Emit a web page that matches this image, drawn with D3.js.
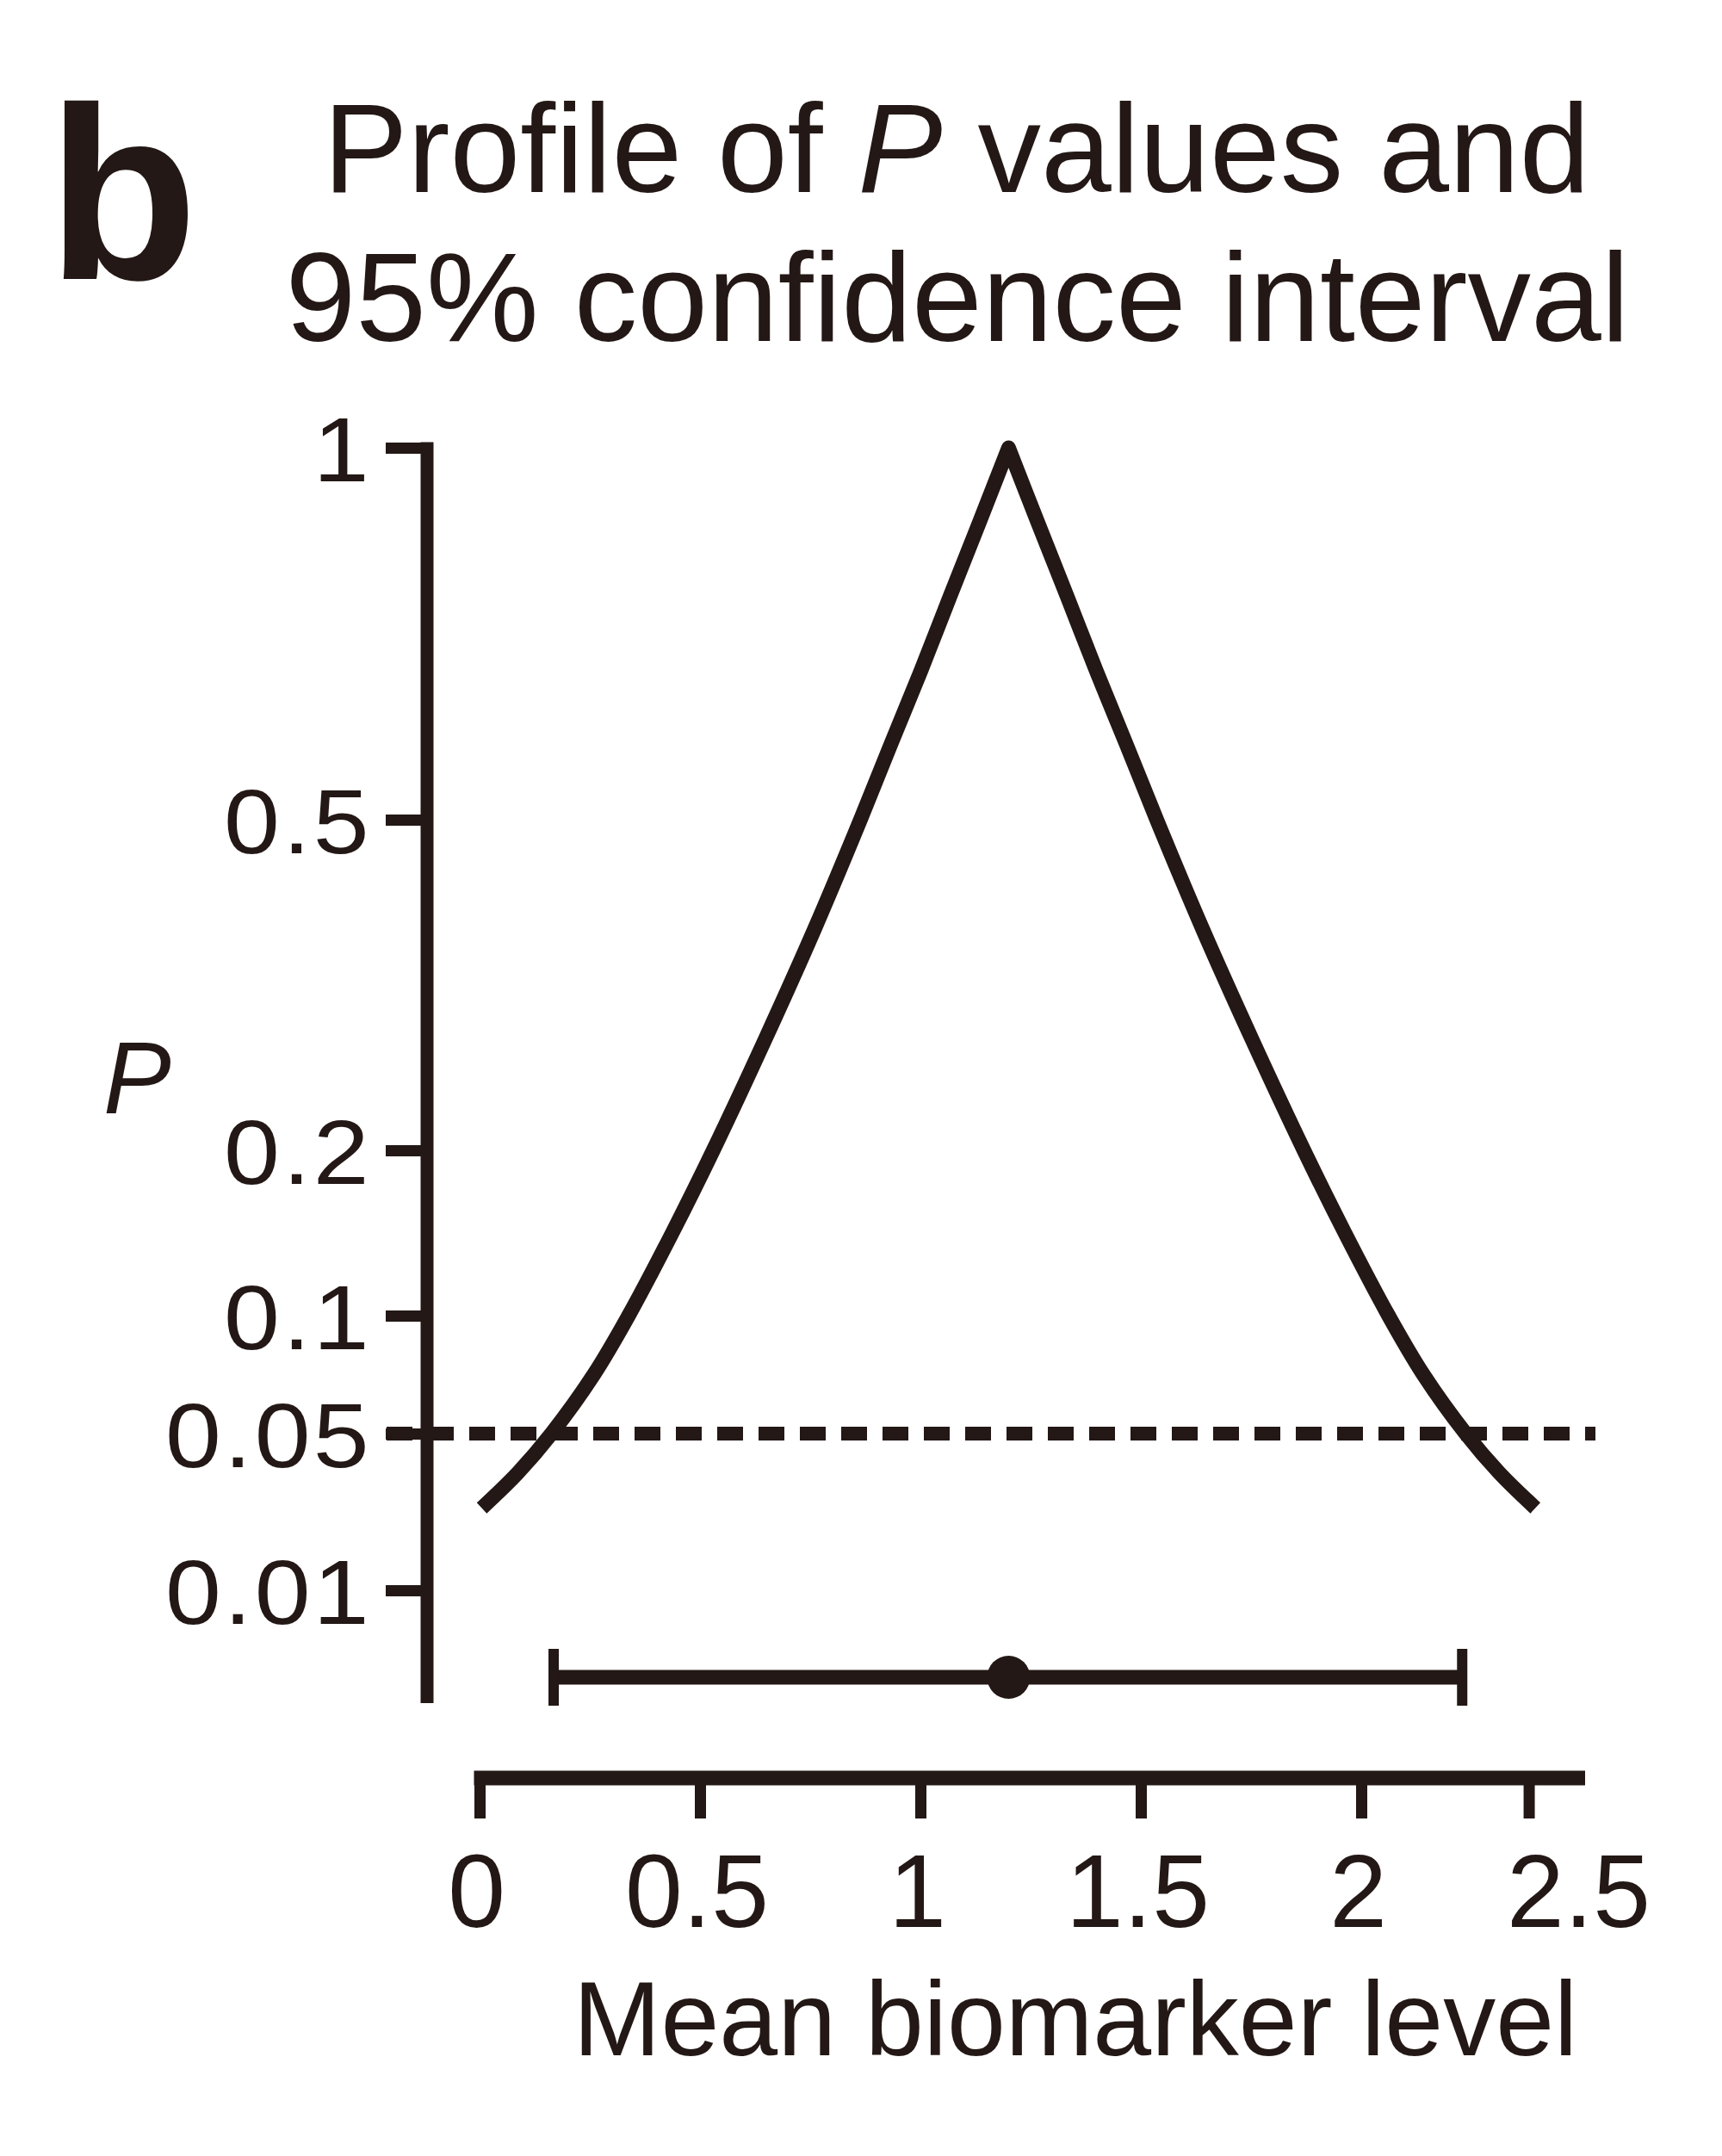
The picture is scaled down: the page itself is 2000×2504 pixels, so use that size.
<!DOCTYPE html>
<html>
<head>
<meta charset="utf-8">
<script src="https://cdn.jsdelivr.net/npm/d3@7"></script>
<style>
  html, body { margin: 0; padding: 0; background: #ffffff; }
  svg { display: block; }
  text { font-family: "Liberation Sans", Arial, Helvetica, sans-serif; fill: #231815; }
</style>
</head>
<body>
<script>
// ---------------- data ----------------
const curveX = [0.005, 0.087, 0.163, 0.259, 0.338, 0.437, 0.530, 0.647, 0.759, 0.864, 0.932, 1.001, 1.067, 1.134, 1.2,
                1.266, 1.333, 1.399, 1.468, 1.536, 1.641, 1.753, 1.870, 1.963, 2.062, 2.141, 2.237, 2.313, 2.395];
const curveP = [0.031, 0.04, 0.05, 0.075, 0.1, 0.15, 0.2, 0.3, 0.4, 0.5, 0.6, 0.7, 0.8, 0.9, 1,
                0.9, 0.8, 0.7, 0.6, 0.5, 0.4, 0.3, 0.2, 0.15, 0.1, 0.075, 0.05, 0.04, 0.031];
const ciLow = 0.168, ciHigh = 2.229, estimate = 1.2;
const alphaLevel = 0.05;
const yTickValues = [1, 0.5, 0.2, 0.1, 0.05, 0.01];
const yTickLabels = ["1", "0.5", "0.2", "0.1", "0.05", "0.01"];
const xTickLabelValues = [0, 0.5, 1, 1.5, 2, 2.5];
const xTickLabels = ["0", "0.5", "1", "1.5", "2", "2.5"];
const xTickMarkValues = [0, 0.5, 1, 1.5, 2, 2.38];
const panelLetter = "b";
const titleLine1 = ["Profile of ", "P", " values and"];
const titleLine2 = "95% confidence interval";
const xTitle = "Mean biomarker level";
const yTitle = "P";

// ---------------- layout ----------------
const W = 2000, H = 2504;
const ink = "#231815";
const svg = d3.select("body").append("svg").attr("width", W).attr("height", H);
svg.append("rect").attr("width", W).attr("height", H).attr("fill", "#fff");

const x = d3.scaleLinear().domain([0, 2.5]).range([557, 1837]);
const y = d3.scaleLinear().domain(yTickValues).range([520, 952, 1336, 1528, 1665, 1847]);

const yAxisX = 496, yAxisBottom = 1978;
const xAxisY = 2065;
const ciY = 1948;
const yLabelStretch = 1.1;

// ---------------- y axis ----------------
const gy = svg.append("g").attr("transform", `translate(${yAxisX},0)`)
  .call(d3.axisLeft(y).tickValues(yTickValues).tickSize(48).tickPadding(0)
        .tickFormat((d, i) => yTickLabels[i]));
gy.select(".domain").remove();
gy.selectAll(".tick line").attr("stroke", ink).attr("stroke-width", 13);
gy.selectAll(".tick text")
  .attr("x", -64 / yLabelStretch).attr("dy", "0.36em")
  .attr("transform", `scale(${yLabelStretch},1)`)
  .style("font-size", "106px").style("letter-spacing", "3px")
  .attr("fill", ink);
gy.append("line").attr("x1", 0).attr("x2", 0).attr("y1", y(1) - 6.5).attr("y2", yAxisBottom)
  .attr("stroke", ink).attr("stroke-width", 15);

// ---------------- x axis ----------------
const gxm = svg.append("g").attr("transform", `translate(0,${xAxisY})`)
  .call(d3.axisBottom(x).tickValues(xTickMarkValues).tickSize(47).tickFormat(""));
gxm.select(".domain").remove();
gxm.selectAll(".tick line").attr("stroke", ink).attr("stroke-width", 13);
gxm.append("line").attr("x1", x(0) - 6.5).attr("x2", 1841).attr("y1", 0).attr("y2", 0)
  .attr("stroke", ink).attr("stroke-width", 17);

const gxl = svg.append("g").attr("transform", `translate(-4,${xAxisY})`)
  .call(d3.axisBottom(x).tickValues(xTickLabelValues).tickSize(0).tickPadding(0)
        .tickFormat((d, i) => xTickLabels[i]));
gxl.select(".domain").remove();
gxl.selectAll(".tick text").attr("y", 173).attr("dy", 0)
  .style("font-size", "120px").attr("fill", ink);

// ---------------- reference line ----------------
svg.append("line")
  .attr("x1", 449).attr("x2", 1853).attr("y1", y(alphaLevel)).attr("y2", y(alphaLevel))
  .attr("stroke", ink).attr("stroke-width", 16).attr("stroke-dasharray", "30 18");

// ---------------- p-value curve ----------------
const pts = curveX.map((v, i) => [v, curveP[i]]);
const peak = d3.maxIndex(curveP);
const left = pts.slice(0, peak + 1), right = pts.slice(peak);
const lineGen = d3.line().x(d => x(d[0])).y(d => y(d[1])).curve(d3.curveCatmullRom.alpha(0.5));
const dPath = lineGen(left) + lineGen(right).replace(/^M/, "L");
svg.append("path").attr("d", dPath)
  .attr("fill", "none").attr("stroke", ink).attr("stroke-width", 17)
  .attr("stroke-linejoin", "round").attr("stroke-linecap", "butt");

// ---------------- confidence interval ----------------
svg.append("line").attr("x1", x(ciLow)).attr("x2", x(ciHigh)).attr("y1", ciY).attr("y2", ciY)
  .attr("stroke", ink).attr("stroke-width", 17);
[ciLow, ciHigh].forEach(v => {
  svg.append("line").attr("x1", x(v)).attr("x2", x(v)).attr("y1", ciY - 33).attr("y2", ciY + 33)
    .attr("stroke", ink).attr("stroke-width", 12);
});
svg.append("circle").attr("cx", x(estimate)).attr("cy", ciY).attr("r", 25).attr("fill", ink);

// ---------------- text ----------------
svg.append("text").attr("x", 55).attr("y", 324)
  .style("font-size", "286px").style("font-weight", "bold").text(panelLetter);

const t1 = svg.append("text").attr("x", 1111).attr("y", 223).attr("text-anchor", "middle")
  .style("font-size", "147px");
titleLine1.forEach((s, i) => {
  t1.append("tspan").text(s).style("font-style", i === 1 ? "italic" : "normal");
});
svg.append("text").attr("x", 1112).attr("y", 396).attr("text-anchor", "middle")
  .style("font-size", "147px").text(titleLine2);

svg.append("text").attr("x", 1249).attr("y", 2387).attr("text-anchor", "middle")
  .style("font-size", "122px").text(xTitle);

svg.append("text").attr("x", 120).attr("y", 1293)
  .style("font-size", "118px").style("font-style", "italic").text(yTitle);
</script>
</body>
</html>
